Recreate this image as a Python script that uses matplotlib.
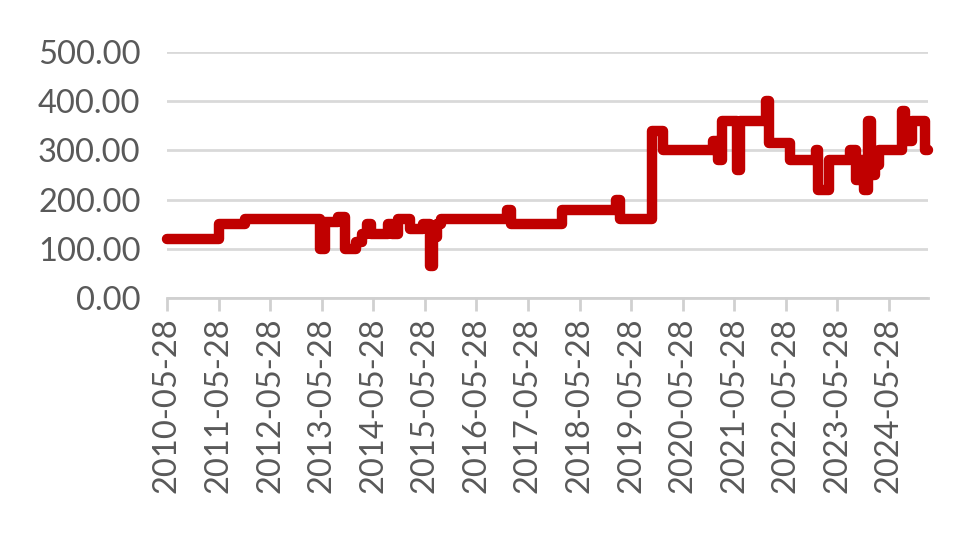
import numpy as np
import pandas as pd
import matplotlib.pyplot as plt
import matplotlib.dates as mdates

# change points of the price series (value holds until next date)
dates = [
    "2010-05-28", "2011-06-01", "2011-12-01", "2013-05-15", "2013-06-20",
    "2013-09-20", "2013-11-10", "2014-01-25", "2014-03-10", "2014-04-15",
    "2014-05-10", "2014-09-10", "2014-10-05", "2014-11-20", "2015-02-10",
    "2015-05-15", "2015-07-05", "2015-07-25", "2015-08-25", "2015-09-20",
    "2016-12-30", "2017-01-28", "2018-01-25", "2019-02-12", "2019-03-10",
    "2019-10-22", "2020-01-10", "2021-01-01", "2021-02-03", "2021-03-03",
    "2021-06-15", "2021-07-10", "2022-01-10", "2022-02-01", "2022-06-28",
    "2022-12-25", "2023-01-12", "2023-04-01", "2023-08-25", "2023-10-08",
    "2023-11-05", "2023-12-05", "2024-01-01", "2024-01-22", "2024-02-20",
    "2024-03-20", "2024-08-27", "2024-09-18", "2024-11-08", "2025-02-08",
    "2025-03-01",
]
values = [
    120, 150, 160, 100, 155,
    165, 100, 115, 130, 150,
    130, 150, 130, 160, 140,
    150, 65, 125, 150, 160,
    178, 150, 180, 200, 160,
    340, 300, 320, 280, 360,
    260, 360, 400, 315, 280,
    300, 220, 280, 300, 240,
    280, 220, 360, 250, 270,
    300, 380, 320, 360, 300,
    300,
]
tick_dates = [f"{y}-05-28" for y in range(2010, 2025)]
y_ticks = [0, 100, 200, 300, 400, 500]

x = pd.to_datetime(dates)
ticks = pd.to_datetime(tick_dates)

plt.rcParams["font.family"] = ["Lato", "DejaVu Sans"]
fig = plt.figure(figsize=(9.8, 5.42), dpi=100)
ax = fig.add_axes([0.1704, 0.450, 0.7766, 0.454])

ax.plot(x, values, drawstyle="steps-post", color="#C00000", linewidth=7.5,
        solid_joinstyle="round", solid_capstyle="round", clip_on=False, zorder=3)

ax.set_xlim(ticks[0], x[-1])
ax.set_ylim(0, 500)
ax.set_yticks(y_ticks)
ax.set_yticklabels([f"{v:.2f}" for v in y_ticks])
ax.set_xticks(ticks)
ax.set_xticklabels(tick_dates, rotation=90)

ax.yaxis.grid(True, color="#d9d9d9", linewidth=2)
ax.set_axisbelow(True)
for s in ["top", "right", "left"]:
    ax.spines[s].set_visible(False)
ax.spines["bottom"].set_color("#d0d0d0")
ax.spines["bottom"].set_linewidth(2)

ax.tick_params(axis="y", length=0, pad=19, labelsize=23.5, labelcolor="#595959")
ax.tick_params(axis="x", length=9, width=2, color="#d0d0d0", pad=5,
               labelsize=23.5, labelcolor="#595959")

fig.savefig("out.png", dpi=100)
